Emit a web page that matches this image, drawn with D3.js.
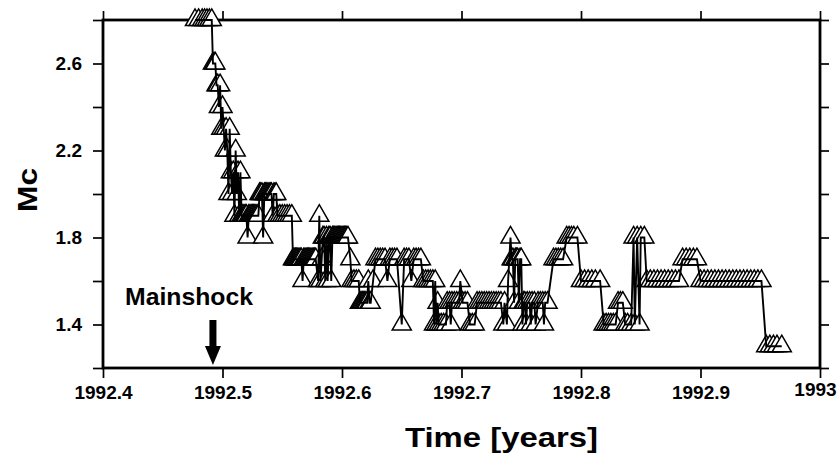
<!DOCTYPE html>
<html>
<head>
<meta charset="utf-8">
<script src="https://d3js.org/d3.v7.min.js"></script>
<style>
  html, body { margin: 0; padding: 0; background: #fff; }
  svg { display: block; font-family: "Liberation Sans", Arial, Helvetica, sans-serif; font-weight: bold; }
</style>
</head>
<body>
<svg id="mc_chart"></svg>
<script>
// axis ticks
const yearTicks = [1992.4, 1992.5, 1992.6, 1992.7, 1992.8, 1992.9, 1993];
const yearLabels = ['1992.4', '1992.5', '1992.6', '1992.7', '1992.8', '1992.9', '1993'];
const mcTicks = [1.2, 1.4, 1.6, 1.8, 2.0, 2.2, 2.4, 2.6, 2.8];
const mcLabels = [1.4, 1.8, 2.2, 2.6];
const mainshockTime = 1992.492;

// Mc(t) just after the mainshock
const decayTimes = [
  1992.477, 1992.480, 1992.483, 1992.485, 1992.487, 1992.489, 1992.491, 1992.492, 1992.493, 1992.494,
  1992.495, 1992.496, 1992.497, 1992.498, 1992.499, 1992.500, 1992.501, 1992.502, 1992.503, 1992.504,
  1992.505, 1992.506, 1992.507, 1992.508, 1992.509, 1992.510, 1992.511, 1992.512, 1992.513, 1992.514,
  1992.515, 1992.516, 1992.517, 1992.518, 1992.519, 1992.520, 1992.521, 1992.522, 1992.523, 1992.524,
  1992.525, 1992.526, 1992.527, 1992.528, 1992.529, 1992.530, 1992.531, 1992.532, 1992.533, 1992.534,
  1992.535, 1992.536, 1992.537, 1992.538, 1992.539, 1992.540, 1992.541, 1992.542, 1992.543, 1992.544,
  1992.545, 1992.546, 1992.548, 1992.550, 1992.552, 1992.554, 1992.556, 1992.558
];
const decayMc = [
  2.8, 2.8, 2.8, 2.8, 2.8, 2.8, 2.8, 2.6, 2.6, 2.6,
  2.5, 2.5, 2.4, 2.5, 2.3, 2.4, 2.3, 2.2, 2.3, 2.2,
  2.0, 2.3, 2.1, 2.0, 2.1, 1.9, 2.2, 2.0, 2.1, 1.9,
  2.1, 1.9, 1.9, 1.9, 1.9, 1.9, 1.8, 1.9, 1.9, 1.9,
  1.9, 1.9, 1.9, 1.9, 1.9, 1.9, 2.0, 2.0, 2.0, 1.8,
  2.0, 2.0, 2.0, 2.0, 2.0, 2.0, 2.0, 1.9, 2.0, 2.0,
  2.0, 1.9, 1.9, 1.9, 1.9, 1.9, 1.9, 1.9
];

// middle part
const midTimes = [
  1992.559, 1992.560, 1992.561, 1992.562, 1992.563, 1992.564, 1992.565, 1992.566, 1992.567, 1992.568,
  1992.569, 1992.570, 1992.571, 1992.572, 1992.573, 1992.574, 1992.575, 1992.576, 1992.577, 1992.578,
  1992.580, 1992.581, 1992.582, 1992.583, 1992.584, 1992.585, 1992.586, 1992.587, 1992.588, 1992.589,
  1992.590, 1992.591, 1992.592, 1992.593, 1992.594, 1992.595, 1992.596, 1992.597, 1992.598, 1992.599,
  1992.600, 1992.601, 1992.602, 1992.603, 1992.604, 1992.605, 1992.607, 1992.608, 1992.610, 1992.612,
  1992.614, 1992.615, 1992.616, 1992.617, 1992.618, 1992.619, 1992.620, 1992.621, 1992.622, 1992.623,
  1992.624, 1992.626, 1992.628, 1992.630, 1992.632, 1992.634, 1992.636, 1992.638, 1992.640, 1992.642,
  1992.644, 1992.646, 1992.650, 1992.652, 1992.654, 1992.656, 1992.658, 1992.660, 1992.662, 1992.664,
  1992.666, 1992.668, 1992.670, 1992.672, 1992.674, 1992.676, 1992.677, 1992.678, 1992.679, 1992.680,
  1992.681, 1992.683, 1992.685, 1992.687, 1992.688, 1992.690, 1992.691, 1992.692, 1992.694, 1992.696,
  1992.698, 1992.699, 1992.701, 1992.703, 1992.705, 1992.707, 1992.709, 1992.711, 1992.713, 1992.715,
  1992.717, 1992.719, 1992.721, 1992.723, 1992.725, 1992.727, 1992.729, 1992.731, 1992.733, 1992.735,
  1992.736, 1992.738, 1992.739, 1992.741, 1992.742, 1992.743, 1992.744, 1992.745, 1992.746, 1992.747,
  1992.748, 1992.749, 1992.750, 1992.751, 1992.752, 1992.753, 1992.754, 1992.755, 1992.757, 1992.758,
  1992.759, 1992.761, 1992.762, 1992.764, 1992.766, 1992.768, 1992.769, 1992.770, 1992.772
];
const midMc = [
  1.7, 1.7, 1.7, 1.7, 1.7, 1.7, 1.7, 1.7, 1.6, 1.7,
  1.7, 1.7, 1.7, 1.7, 1.7, 1.7, 1.7, 1.7, 1.7, 1.7,
  1.6, 1.9, 1.6, 1.7, 1.8, 1.8, 1.6, 1.8, 1.6, 1.8,
  1.8, 1.6, 1.8, 1.8, 1.8, 1.8, 1.8, 1.8, 1.8, 1.8,
  1.8, 1.8, 1.8, 1.8, 1.8, 1.8, 1.7, 1.6, 1.6, 1.6,
  1.6, 1.5, 1.5, 1.5, 1.5, 1.5, 1.5, 1.5, 1.6, 1.5,
  1.5, 1.6, 1.7, 1.7, 1.7, 1.7, 1.7, 1.6, 1.7, 1.7,
  1.7, 1.7, 1.4, 1.7, 1.7, 1.7, 1.6, 1.7, 1.7, 1.7,
  1.7, 1.6, 1.6, 1.6, 1.6, 1.6, 1.4, 1.6, 1.4, 1.5,
  1.4, 1.4, 1.4, 1.4, 1.5, 1.5, 1.4, 1.5, 1.5, 1.5,
  1.5, 1.6, 1.5, 1.5, 1.5, 1.4, 1.4, 1.4, 1.5, 1.5,
  1.5, 1.5, 1.5, 1.5, 1.5, 1.5, 1.5, 1.5, 1.5, 1.4,
  1.5, 1.4, 1.6, 1.8, 1.7, 1.7, 1.5, 1.7, 1.7, 1.7,
  1.5, 1.7, 1.7, 1.4, 1.5, 1.5, 1.4, 1.5, 1.5, 1.4,
  1.5, 1.5, 1.4, 1.5, 1.5, 1.5, 1.4, 1.5, 1.5
];

// late part, to the end of 1992
const lateTimes = [
  1992.777, 1992.779, 1992.781, 1992.783, 1992.785, 1992.788, 1992.790, 1992.792, 1992.794, 1992.797,
  1992.800, 1992.803, 1992.806, 1992.809, 1992.812, 1992.816, 1992.819, 1992.821, 1992.823, 1992.825,
  1992.827, 1992.829, 1992.831, 1992.833, 1992.835, 1992.837, 1992.839, 1992.842, 1992.844, 1992.845,
  1992.847, 1992.849, 1992.850, 1992.853, 1992.855, 1992.858, 1992.861, 1992.864, 1992.867, 1992.870,
  1992.873, 1992.876, 1992.879, 1992.882, 1992.885, 1992.888, 1992.891, 1992.894, 1992.897, 1992.900,
  1992.903, 1992.906, 1992.909, 1992.912, 1992.915, 1992.918, 1992.921, 1992.924, 1992.927, 1992.930,
  1992.933, 1992.936, 1992.939, 1992.942, 1992.945, 1992.948, 1992.951, 1992.955, 1992.958, 1992.961,
  1992.964, 1992.968
];
const lateMc = [
  1.7, 1.7, 1.7, 1.7, 1.7, 1.8, 1.8, 1.8, 1.8, 1.8,
  1.6, 1.6, 1.6, 1.6, 1.6, 1.6, 1.4, 1.4, 1.4, 1.4,
  1.4, 1.4, 1.5, 1.5, 1.5, 1.4, 1.4, 1.4, 1.8, 1.4,
  1.8, 1.4, 1.8, 1.8, 1.6, 1.6, 1.6, 1.6, 1.6, 1.6,
  1.6, 1.6, 1.6, 1.6, 1.7, 1.7, 1.7, 1.7, 1.7, 1.6,
  1.6, 1.6, 1.6, 1.6, 1.6, 1.6, 1.6, 1.6, 1.6, 1.6,
  1.6, 1.6, 1.6, 1.6, 1.6, 1.6, 1.6, 1.3, 1.3, 1.3,
  1.3, 1.3
];

const times = decayTimes.concat(midTimes, lateTimes);
const mcValues = decayMc.concat(midMc, lateMc);
const points = times.map((t, i) => ({ t: t, mc: mcValues[i] }));

const svg = d3.select('#mc_chart')
  .attr('width', 837)
  .attr('height', 455);

svg.append('rect')
  .attr('width', 837)
  .attr('height', 455)
  .attr('fill', '#fff');

const margin = { top: 20, right: 17, bottom: 87, left: 103 };
const width = 837 - margin.left - margin.right;
const height = 455 - margin.top - margin.bottom;

const xScale = d3.scaleLinear().domain([1992.4, 1993]).range([0, width]);
const yScale = d3.scaleLinear().domain([1.2, 2.8]).range([height, 0]);

const g = svg.append('g')
  .attr('transform', `translate(${margin.left},${margin.top})`);

// axes on all four sides
const xAxisBottom = d3.axisBottom(xScale)
  .tickValues(yearTicks)
  .tickFormat((d, i) => yearLabels[i])
  .tickSize(10)
  .tickPadding(8);
const xAxisTop = d3.axisTop(xScale).tickValues(yearTicks).tickFormat('').tickSize(9);
const yAxisLeft = d3.axisLeft(yScale)
  .tickValues(mcTicks)
  .tickFormat(d => mcLabels.includes(d) ? d.toFixed(1) : '')
  .tickSize(10)
  .tickPadding(11);
const yAxisRight = d3.axisRight(yScale).tickValues(mcTicks).tickFormat('').tickSize(9);

const xBottom = g.append('g').attr('transform', `translate(0,${height})`).call(xAxisBottom);
g.append('g').call(xAxisTop);
g.append('g').call(yAxisLeft);
g.append('g').attr('transform', `translate(${width},0)`).call(yAxisRight);

g.selectAll('.domain').remove();
g.selectAll('.tick line').attr('stroke', '#000').attr('stroke-width', 1.7);
g.selectAll('.tick text')
  .attr('fill', '#000')
  .style('font-size', '19px')
  .style('font-weight', 'bold')
  .style('font-family', '"Liberation Sans", Arial, sans-serif');

// last year label sits against the page edge
xBottom.selectAll('.tick text')
  .filter(d => d === 1993)
  .attr('dx', -5)
  .attr('dy', '0.55em');

// frame
g.append('rect')
  .attr('width', width)
  .attr('height', height)
  .attr('fill', 'none')
  .attr('stroke', '#000')
  .attr('stroke-width', 2.8);

// triangles, white filled, drawn in time order
const triangle = d3.symbol().type(d3.symbolTriangle).size(160);
g.selectAll('.mc-point')
  .data(points)
  .enter()
  .append('path')
  .attr('class', 'mc-point')
  .attr('d', triangle)
  .attr('transform', d => `translate(${xScale(d.t)},${yScale(d.mc)})`)
  .attr('fill', '#fff')
  .attr('stroke', '#000')
  .attr('stroke-width', 1.45);

// connecting line on top
const line = d3.line()
  .x(d => xScale(d.t))
  .y(d => yScale(d.mc));

g.append('path')
  .datum(points)
  .attr('d', line)
  .attr('fill', 'none')
  .attr('stroke', '#000')
  .attr('stroke-width', 1.9)
  .attr('stroke-linejoin', 'miter');

// mainshock arrow
const ax = xScale(mainshockTime);
const arrowTop = 300;
const arrowTip = height - 3;
g.append('path')
  .attr('d', `M${ax - 3.5},${arrowTop} L${ax + 3.5},${arrowTop} L${ax + 3.5},${arrowTip - 19}
    L${ax + 8},${arrowTip - 19} L${ax},${arrowTip} L${ax - 8},${arrowTip - 19} L${ax - 3.5},${arrowTip - 19} Z`)
  .attr('fill', '#000');

svg.append('text')
  .attr('x', 125)
  .attr('y', 305)
  .attr('textLength', 128)
  .attr('lengthAdjust', 'spacingAndGlyphs')
  .style('font-size', '24px')
  .text('Mainshock');

// axis titles
svg.append('text')
  .attr('x', margin.left + width / 2 + 40)
  .attr('y', 447)
  .attr('text-anchor', 'middle')
  .attr('textLength', 193)
  .attr('lengthAdjust', 'spacingAndGlyphs')
  .style('font-size', '28px')
  .text('Time [years]');

svg.append('text')
  .attr('transform', 'translate(37,190) rotate(-90)')
  .attr('text-anchor', 'middle')
  .attr('textLength', 44)
  .attr('lengthAdjust', 'spacingAndGlyphs')
  .style('font-size', '28px')
  .text('Mc');
</script>
</body>
</html>
